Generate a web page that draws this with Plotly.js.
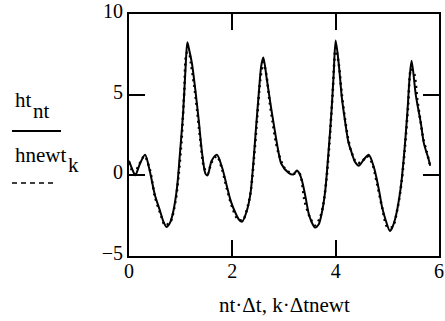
<!DOCTYPE html>
<html><head><meta charset="utf-8">
<script src="https://cdn.plot.ly/plotly-3.0.1.min.js"></script>
<style>html,body{margin:0;padding:0;background:#fff;}#chart{width:445px;height:321px;}</style>
</head><body><div id="chart"></div>
<script>
// ht_nt (solid)
const ntTime = [0,0.06,0.12,0.21,0.31,0.4,0.5,0.6,0.67,0.73,0.8,0.86,0.93,0.99,1.05,1.1,1.13,1.17,1.22,1.28,1.35,1.41,1.48,1.52,1.6,1.7,1.8,1.9,1.97,2.07,2.13,2.19,2.28,2.35,2.41,2.46,2.51,2.56,2.6,2.67,2.74,2.8,2.89,2.95,3.09,3.18,3.25,3.3,3.35,3.42,3.48,3.55,3.6,3.67,3.74,3.8,3.87,3.92,3.96,4.0,4.06,4.12,4.18,4.25,4.3,4.38,4.45,4.55,4.64,4.74,4.84,4.9,4.97,5.05,5.1,5.16,5.26,5.33,5.39,5.43,5.47,5.55,5.65,5.71,5.79,5.83];
const htNt = [0.9,0.4,0.0,0.7,1.27,0.3,-1.2,-2.2,-2.9,-3.2,-2.9,-2.2,-0.75,1.5,4.0,7.0,8.25,7.7,6.9,5.4,3.4,1.5,0.1,0.0,0.9,1.27,0.5,-0.75,-1.6,-2.4,-2.75,-2.87,-2.2,-1.15,0.9,3.0,5.0,6.8,7.3,5.9,4.4,3.2,1.5,0.7,0.15,0.05,0.3,0.1,-0.35,-1.4,-2.4,-3.0,-3.24,-3.05,-2.2,-0.9,1.8,4.0,6.2,8.35,6.9,4.8,3.4,2.0,1.5,0.8,0.6,1.0,1.27,0.5,-0.95,-2.0,-2.8,-3.45,-3.2,-2.6,-0.75,1.5,4.0,6.0,7.1,5.0,3.2,1.95,1.1,0.6];
// hnewt_k (dashed)
const kTime = [0,0.1,0.2,0.3,0.4,0.5,0.6,0.7,0.8,0.9,0.96,1.02,1.07,1.12,1.16,1.2,1.26,1.32,1.38,1.45,1.52,1.6,1.7,1.8,1.9,2.0,2.1,2.2,2.3,2.36,2.42,2.48,2.54,2.6,2.66,2.72,2.78,2.84,2.9,3.0,3.1,3.2,3.3,3.4,3.5,3.6,3.7,3.76,3.82,3.88,3.94,4.0,4.06,4.12,4.18,4.24,4.3,4.4,4.5,4.6,4.7,4.8,4.9,5.0,5.1,5.2,5.28,5.34,5.4,5.46,5.52,5.58,5.64,5.7,5.76,5.82];
const hnewtK = [0.8,0.1,0.7,1.2,0.4,-1.3,-2.3,-3.1,-2.9,-1.6,0.0,2.3,5.2,7.6,7.6,6.9,5.6,4.0,2.2,0.5,0.1,0.8,1.2,0.4,-0.9,-2.0,-2.7,-2.8,-1.9,-0.9,1.1,3.5,5.9,7.0,6.2,4.6,3.3,2.1,1.3,0.5,0.2,0.1,0.1,-1.6,-2.6,-3.1,-2.6,-1.8,-0.3,2.0,5.0,7.9,6.9,5.0,3.5,2.3,1.5,0.8,0.8,1.2,0.8,-0.5,-2.0,-3.2,-3.2,-2.0,-0.3,1.7,4.2,6.6,6.3,4.7,3.4,2.2,1.5,0.7];
const xTicks = [0,2,4,6];
const yTicks = [-5,0,5,10];
const xLabel = "nt·Δt, k·Δtnewt";

const W=445,H=321,L=129,R=6,T=14,B=65;
const pw=W-L-R, ph=H-T-B;
const px = v => (v-L)/pw;
const py = v => (H-B-v)/ph;
const serif = "Liberation Serif";

const traces = [
  {x: ntTime, y: htNt, mode:'lines', line:{color:'#000', width:2, shape:'spline', smoothing:0.8}, hoverinfo:'skip'},
  {x: kTime, y: hnewtK, mode:'lines', line:{color:'#000', width:2.5, dash:'2px,4px', shape:'spline', smoothing:0.8}, hoverinfo:'skip'}
];
const axisCommon = {showgrid:false, zeroline:false, showline:true, linecolor:'#000', linewidth:2, mirror:'allticks',
  ticks:'inside', ticklen:16, tickwidth:2, tickcolor:'#000', tickfont:{family:serif, size:20, color:'#000'}};
const ann = (text, x, y, xa) => ({text, xref:'paper', yref:'paper', x:px(x), y:py(y), xanchor:xa||'left', yanchor:'middle', showarrow:false, font:{family:serif, size:21, color:'#000'}});
const layout = {
  width:W, height:H, margin:{l:L, r:R, t:T, b:B}, paper_bgcolor:'#fff', plot_bgcolor:'#fff', showlegend:false,
  font:{family:serif, color:'#000'},
  xaxis: Object.assign({}, axisCommon, {range:[0,6], tickvals:xTicks, ticktext:xTicks.map(String), ticklabelstandoff:-4, ticklabelshift:0, ticklabeloverflow:'allow'}),
  yaxis: Object.assign({}, axisCommon, {range:[-5,10], tickvals:yTicks, ticktext:yTicks.map(v=> v<0 ? '\u2212'+Math.abs(v) : String(v)), ticklabelshift:-3, ticklabeloverflow:'allow'}),
  annotations: [
    ann(xLabel, 284, 305, 'center'),
    ann('ht', 13, 100), ann('nt', 31, 111),
    ann('hnewt', 13, 155), ann('k', 66, 165)
  ],
  shapes: [
    {type:'line', xref:'paper', yref:'paper', x0:px(12), x1:px(61), y0:py(131), y1:py(131), line:{color:'#000', width:2}},
    {type:'line', xref:'paper', yref:'paper', x0:px(12), x1:px(55), y0:py(183), y1:py(183), line:{color:'#000', width:1.5, dash:'5px,4px'}}
  ]
};
Plotly.newPlot('chart', traces, layout, {staticPlot:true, displayModeBar:false});
</script></body></html>
